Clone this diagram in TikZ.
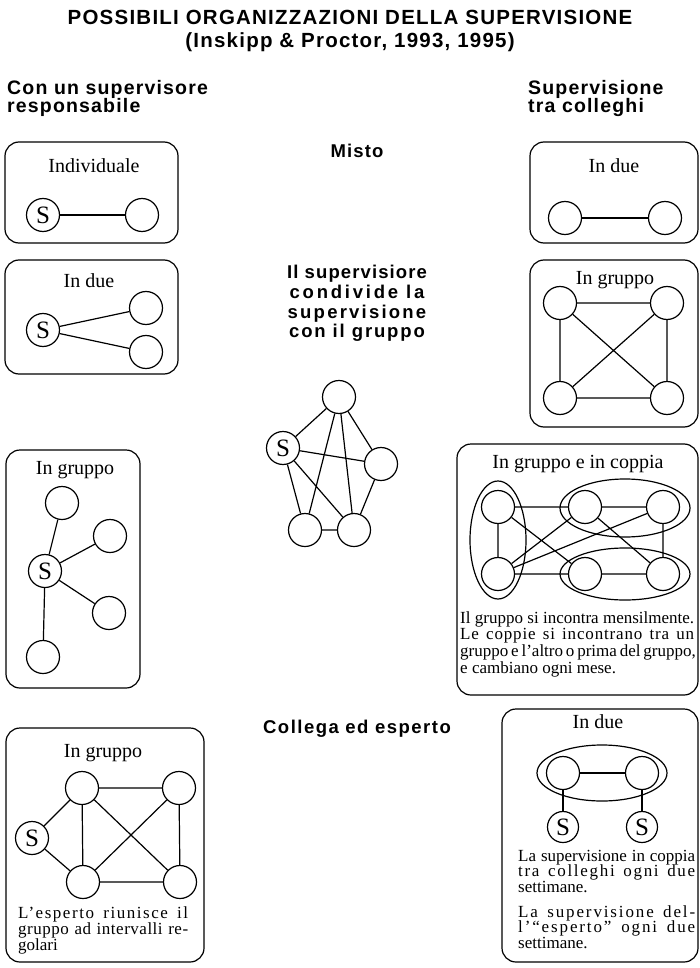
\documentclass[tikz,border=0pt]{standalone}
\usepackage{fontspec}
\setmainfont{Liberation Serif}
\newfontfamily\hsans{Liberation Sans}[LetterSpace=6]
\usetikzlibrary{shapes.geometric}
\newcommand{\justline}[2][0]{\makebox[\linewidth][s]{\addfontfeatures{LetterSpace=#1}#2}\par}
\begin{document}
\begin{tikzpicture}[x=1pt,y=-1pt,
  box/.style={draw, line width=1.2pt, rounded corners=14pt},
  pers/.style={circle, draw, line width=1.2pt, minimum size=33pt, inner sep=0pt, font=\fontsize{25}{25}\selectfont},
  spers/.style={pers, minimum size=31pt},
  link/.style={line width=1.2pt},
  ring/.style={ellipse, draw, line width=1.2pt, inner sep=0pt},
  btitle/.style={anchor=base, inner sep=0pt, font=\fontsize{20}{20}\selectfont},
  body/.style={anchor=base west, inner sep=0pt, font=\fontsize{17}{16.5}\selectfont},
  head/.style={anchor=base west, inner sep=0pt, font=\hsans\bfseries\fontsize{19.5}{19.5}\selectfont},
  mid/.style={anchor=base, inner sep=0pt, font=\hsans\bfseries\fontsize{18.5}{18.5}\selectfont},
  ttl/.style={anchor=base, inner sep=0pt, font=\hsans\bfseries\fontsize{20.5}{20.5}\selectfont}
]
\useasboundingbox (0,0) rectangle (700,968);

% titles
\node[ttl] (t1) at (350,25) {POSSIBILI ORGANIZZAZIONI DELLA SUPERVISIONE};
\node[ttl] (t2) at (350,48) {(Inskipp \& Proctor, 1993, 1995)};
\node[head] (h1a) at (7,95) {Con un supervisore};
\node[head] (h1b) at (7,113) {responsabile};
\node[head] (h2a) at (528,95) {Supervisione};
\node[head] (h2b) at (528,113) {tra colleghi};

% middle texts
\node[mid] (m1) at (357,158) {Misto};
\node[mid] (m2) at (357,278) {Il supervisiore};
\node[mid] (m3) at (357,298) {\addfontfeatures{LetterSpace=15}condivide la};
\node[mid] (m4) at (357,318) {\addfontfeatures{LetterSpace=12}supervisione};
\node[mid] (m5) at (357,337) {\addfontfeatures{LetterSpace=10}con il gruppo};
\node[mid] (m6) at (357,733) {\addfontfeatures{LetterSpace=8}Collega ed esperto};

% ---------- L1 Individuale
\draw[box] (5,142) rectangle (178,243);
\node[btitle] (l1t) at (94,173) {Individuale};
\node[pers] (l1s) at (43,215) {S};
\node[pers] (l1a) at (142,215) {};
\draw[link] (l1s) -- (l1a);

% ---------- L2 In due
\draw[box] (5,260) rectangle (178,374);
\node[btitle] (l2t) at (89,287) {In due};
\node[pers] (l2s) at (43,330) {S};
\node[pers] (l2a) at (146,308) {};
\node[pers] (l2b) at (146,352) {};
\draw[link] (l2s) -- (l2a) (l2s) -- (l2b);

% ---------- R1 In due
\draw[box] (530,142) rectangle (698,243);
\node[btitle] (r1t) at (614,173) {In due};
\node[pers] (r1a) at (565,218) {};
\node[pers] (r1b) at (665,218) {};
\draw[link] (r1a) -- (r1b);

% ---------- R2 In gruppo
\draw[box] (530,260) rectangle (698,427);
\node[btitle] (r2t) at (615,284) {In gruppo};
\node[pers] (r2a) at (560,303) {};
\node[pers] (r2b) at (667,303) {};
\node[pers] (r2c) at (560,398) {};
\node[pers] (r2d) at (667,398) {};
\draw[link] (r2a) -- (r2b) (r2c) -- (r2d) (r2a) -- (r2c) (r2b) -- (r2d)
            (r2a) -- (r2d) (r2b) -- (r2c);

% ---------- L3 In gruppo (star)
\draw[box] (6,450) rectangle (140,688);
\node[btitle] (l3t) at (75,474) {In gruppo};
\node[pers] (l3a) at (62,503) {};
\node[pers] (l3b) at (110,536) {};
\node[pers] (l3s) at (45,571) {S};
\node[pers] (l3c) at (109,613) {};
\node[pers] (l3d) at (43,657) {};
\draw[link] (l3s) -- (l3a) (l3s) -- (l3b) (l3s) -- (l3c) (l3s) -- (l3d);

% ---------- Middle pentagon
\node[pers] (mt) at (339,397) {};
\node[pers] (ms) at (283,448) {S};
\node[pers] (mr) at (381,464) {};
\node[pers] (mbl) at (305,530) {};
\node[pers] (mbr) at (354,530) {};
\draw[link] (mt) -- (ms) (mt) -- (mr) (mt) -- (mbl) (mt) -- (mbr)
            (ms) -- (mr) (ms) -- (mbl) (ms) -- (mbr)
            (mr) -- (mbr) (mbl) -- (mbr);

% ---------- R3 In gruppo e in coppia
\draw[box] (457,444) rectangle (698,695);
\node[btitle] (r3t) at (578,468) {In gruppo e in coppia};
\node[ring, minimum width=56pt, minimum height=118pt] (r3e1) at (498,540) {};
\node[ring, minimum width=130pt, minimum height=58pt] (r3e2) at (625,508) {};
\node[ring, minimum width=130pt, minimum height=52pt] (r3e3) at (625,574) {};
\node[pers] (r3lt) at (498,507) {};
\node[pers] (r3lb) at (498,574) {};
\node[pers] (r3mt) at (585,507) {};
\node[pers] (r3mb) at (585,574) {};
\node[pers] (r3rt) at (663,507) {};
\node[pers] (r3rb) at (663,574) {};
\draw[link] (r3lt) -- (r3mt) (r3lb) -- (r3mb) (r3lt) -- (r3lb)
            (r3mt) -- (r3rt) (r3mb) -- (r3rb) (r3rt) -- (r3rb)
            (r3lt) -- (r3mb) (r3lb) -- (r3mt) (r3lb) -- (r3rt) (r3mt) -- (r3rb);
\node[body] (r3x) at (460,623) {\parbox[t]{234pt}{\fontsize{17}{16.7}\selectfont
  \justline{Il gruppo si incontra mensilmente.}
  \justline[5]{Le coppie si incontrano tra un}
  \justline{gruppo e l'altro o prima del gruppo,}
  e cambiano ogni mese.}};

% ---------- L4 In gruppo con esperto
\draw[box] (6,728) rectangle (204,962);
\node[btitle] (l4t) at (103,757) {In gruppo};
\node[pers] (l4a) at (82,788) {};
\node[pers] (l4b) at (179,788) {};
\node[pers] (l4s) at (32,838) {S};
\node[pers] (l4c) at (83,882) {};
\node[pers] (l4d) at (180,882) {};
\draw[link] (l4s) -- (l4a) (l4s) -- (l4c) (l4a) -- (l4b) (l4c) -- (l4d)
            (l4a) -- (l4c) (l4b) -- (l4d) (l4a) -- (l4d) (l4b) -- (l4c);
\node[body] (l4x) at (18,918) {\parbox[t]{170pt}{\fontsize{17}{15}\selectfont
  \justline[9]{L'esperto riunisce il}
  \justline[3]{gruppo ad intervalli re-}
  golari}};

% ---------- R4 In due con esperto
\draw[box] (502,709) rectangle (698,962);
\node[btitle] (r4t) at (598,728) {In due};
\node[ring, minimum width=130pt, minimum height=56pt] (r4e) at (602,773) {};
\node[pers] (r4a) at (563,773) {};
\node[pers] (r4b) at (642,773) {};
\node[spers] (r4sa) at (563,827) {S};
\node[spers] (r4sb) at (642,827) {S};
\draw[link] (r4a) -- (r4b) (r4a) -- (r4sa) (r4b) -- (r4sb);
\node[body] (r4x) at (518,861) {\parbox[t]{177pt}{\fontsize{17}{15.5}\selectfont
  \justline{La supervisione in coppia}
  \justline[10]{tra colleghi ogni due}
  settimane.}};
\node[body] (r4y) at (518,917) {\parbox[t]{177pt}{\fontsize{17}{15.5}\selectfont
  \justline[11]{La supervisione del-}
  \justline[11]{l'\textquotedblleft esperto\textquotedblright{} ogni due}
  settimane.}};
\end{tikzpicture}
\end{document}
